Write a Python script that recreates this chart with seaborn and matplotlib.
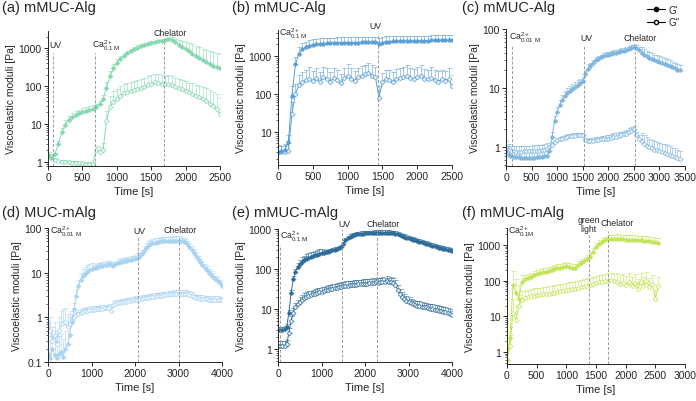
import numpy as np
import pandas as pd
import seaborn as sns
import matplotlib.pyplot as plt
from matplotlib.lines import Line2D
from matplotlib import ticker

# (a) mMUC-Alg, time every 50 s, G' / G'' in Pa, upper error in %
a_time = np.arange(0, 2501, 50)
a_g1 = [1.5, 1.3, 1.6, 3.0, 6.0, 9.5, 12.5, 15, 17, 19, 20.5, 22, 23.5, 25, 28,
        33, 45, 90, 180, 290,
        400, 510, 620, 720, 820, 920, 1020, 1110, 1200, 1280, 1360, 1430, 1500, 1560, 1620, 1680,
        1650, 1420, 1220, 1060, 930, 810, 710, 620, 550, 480, 430, 380, 345, 315, 290]
a_e1 = [10, 10, 10,
        20, 30, 30, 30, 30, 25, 25, 25, 25, 25, 25, 20,
        20, 30, 40, 40, 30,
        25, 20, 20, 15, 15, 15, 15, 15, 15, 10, 10, 10, 10, 10, 10, 10,
        15, 25, 35, 45, 55, 65, 75, 85, 95, 100, 110, 120, 125, 130, 140]
a_g2 = [1.6, 1.4, 1.15, 1.05, 1.0, 1.0, 0.97, 0.95, 0.95, 0.93, 0.92, 0.9, 0.9, 0.88,
        2.0, 1.8, 2.0, 12, 28, 38,
        45, 55, 65, 70, 75, 80, 85, 90, 95, 105, 115, 125, 120, 115, 110, 115,
        105, 95, 88, 82, 75, 68, 62, 56, 50, 45, 40, 34, 29, 24, 18]
a_e2 = [15, 10, 10, 10, 10, 10, 10, 10, 10, 10, 10, 10, 10, 10,
        30, 40, 60, 80, 90, 90,
        80, 80, 70, 70, 70, 70, 70, 70, 70, 70, 70, 70, 70, 70, 70, 70,
        70, 70, 70, 70, 80, 80, 90, 90, 100, 110, 120, 130, 140, 150, 160]

# (b) mMUC-Alg
b_time = np.arange(0, 2501, 50)
b_g1 = [3.0, 3.1, 3.3, 5.5, 90, 600, 1150, 1500, 1700, 1850, 1950, 2000, 2050, 2100, 2120, 2150, 2170, 2180, 2200, 2210,
        2220, 2230, 2240, 2250, 2260, 2270, 2280, 2290, 2300, 2050,
        2250, 2350, 2380, 2400, 2420, 2440, 2450, 2460, 2480, 2490,
        2500, 2520, 2530, 2540, 2550, 2560, 2580, 2590, 2600, 2610, 2620]
b_e1 = [40, 40, 40, 50, 80, 60, 50, 45, 40, 40,
        40, 40, 40, 40, 40, 40, 40, 40, 40, 40,
        40, 40, 40, 40, 40, 40, 40, 40, 40, 45,
        40, 40, 40, 40, 35, 35, 35, 35, 35, 35,
        35, 35, 35, 35, 35, 35, 35, 35, 35, 35, 35]
b_g2 = [3.0, 2.9, 3.0, 3.2, 30, 100, 170, 210, 230, 250,
        220, 260, 200, 280, 240, 210, 270, 230, 190, 260,
        300, 250, 220, 280, 300, 330, 350, 300, 280, 80,
        200, 250, 230, 210, 240, 260, 280, 300, 270, 250,
        280, 300, 250, 240, 260, 230, 210, 240, 220, 250, 160]
b_e2 = [50, 50, 60, 60, 100, 80, 80, 80, 90, 100,
        80, 80, 90, 80, 100, 80, 80, 90, 80, 80,
        100, 90, 80, 70, 80, 80, 90, 90, 80, 100,
        80, 70, 80, 80, 90, 80, 80, 90, 80, 80,
        80, 90, 80, 80, 100, 80, 90, 80, 80, 90, 100]

# (c) mMUC-Alg
c_time = np.arange(0, 3401, 50)
c_g1 = [0.85, 0.75, 0.70, 0.68, 0.67, 0.67, 0.66, 0.66, 0.66, 0.66, 0.66, 0.66, 0.67, 0.67, 0.68, 0.70, 0.72,
        0.85, 1.5, 2.8, 4.0, 5.2, 6.4, 7.4, 8.3, 9.1, 9.8, 10.5, 11.2, 12, 13, 17, 21,
        24, 27, 29.5, 31.5, 33, 34.5, 36, 37, 38, 39, 40, 41, 42, 43, 44, 45.5, 47, 49, 48, 44,
        40, 37, 34.5, 32.5, 31, 29.5, 28.5, 27.5, 26.5, 25.5, 24.5, 23.5, 22.5, 21.5, 20.5, 20]
c_e1 = [25, 25, 25, 25, 25, 25, 25, 25, 25, 25, 25, 25, 25, 25, 25, 25, 25,
        20, 20, 20, 20, 20, 20, 20, 20, 20, 20, 20, 20, 20, 20, 20, 20,
        12, 12, 12, 12, 12, 12, 12, 12, 12, 12, 12, 12, 12, 12, 12, 12, 12, 12, 12, 12,
        25, 25, 25, 25, 25, 25, 25, 25, 25, 25, 25, 25, 25, 25, 25, 25]
c_g2 = [1.0, 0.9, 0.85, 0.85, 0.84, 0.84, 0.84, 0.85, 0.85, 0.85, 0.85, 0.86, 0.86, 0.87, 0.88, 0.9, 0.93,
        1.0, 1.1, 1.2, 1.3, 1.35, 1.4, 1.45, 1.5, 1.52, 1.55, 1.57, 1.6, 1.6, 1.6, 1.3, 1.25,
        1.25, 1.25, 1.3, 1.3, 1.35, 1.35, 1.4, 1.4, 1.45, 1.5, 1.5, 1.55, 1.6, 1.65, 1.7, 1.8, 1.9, 2.0, 1.6, 1.4,
        1.25, 1.15, 1.05, 1.0, 0.95, 0.9, 0.88, 0.85, 0.82, 0.8, 0.78, 0.75, 0.7, 0.68, 0.65, 0.62]
c_e2 = [25, 25, 25, 25, 25, 25, 25, 25, 25, 25, 25, 25, 25, 25, 25, 25, 25,
        10, 10, 10, 10, 10, 10, 10, 10, 10, 10, 10, 10, 10, 10, 10, 10,
        15, 15, 15, 15, 15, 15, 15, 15, 15, 15, 15, 15, 15, 15, 15, 15, 15, 15, 15, 15,
        40, 40, 40, 40, 40, 40, 40, 40, 40, 40, 40, 40, 40, 40, 40, 40]

# (d) MUC-mAlg
d_time = np.arange(0, 4001, 50)
d_g1 = [0.15, 0.12, 0.2, 0.14, 0.12, 0.15, 0.17, 0.13, 0.2, 0.25, 0.4,
        0.8, 1.5, 3, 5, 7, 8.5, 9.5, 10.5, 11.2, 12,
        12.5, 13, 13.5, 14, 14.3, 14.6, 15, 15.5, 14.5, 14, 15.5, 16.5, 17, 17.5, 18, 18.5, 19, 19.5, 20, 20.5,
        21.5, 23, 26, 31, 36, 40, 43, 45, 47, 48, 49, 50, 50.5, 51, 51, 51.5, 52, 52, 52, 52,
        52, 51, 48, 43, 38, 33, 28, 24, 20, 17, 15, 13, 11.5, 10, 9, 8, 7.2, 6.5, 5.8, 5]
d_e1 = [150, 150, 150, 150, 150, 150, 150, 150, 150, 150, 150,
        40, 40, 40, 40, 40, 40, 40, 40, 40, 40,
        20, 20, 20, 20, 20, 20, 20, 20, 20, 20, 20, 20, 20, 20, 20, 20, 20, 20, 20, 20,
        25, 25, 25, 25, 25, 25, 25, 25, 25, 25, 25, 25, 25, 25, 25, 25, 25, 25, 25, 25,
        20, 20, 20, 20, 20, 20, 20, 20, 20, 20, 20, 20, 20, 20, 20, 20, 20, 20, 20, 20]
d_g2 = [0.8, 0.5, 0.3, 0.4, 0.25, 0.5, 0.7, 0.75, 0.8, 0.6, 0.7,
        0.85, 1.0, 1.1, 1.2, 1.28, 1.33, 1.37, 1.4, 1.43, 1.46,
        1.48, 1.5, 1.52, 1.54, 1.56, 1.58, 1.6, 1.62, 1.4, 1.9, 2.0, 2.05, 2.1, 2.15, 2.2, 2.25, 2.3, 2.35, 2.4, 2.45,
        2.5, 2.55, 2.6, 2.65, 2.7, 2.75, 2.8, 2.85, 2.9, 2.95, 3.0, 3.05, 3.1, 3.15, 3.2, 3.25, 3.3, 3.35, 3.4, 3.4,
        3.4, 3.4, 3.35, 3.3, 3.2, 3.0, 2.8, 2.7, 2.65, 2.6, 2.6, 2.55, 2.55, 2.5, 2.5, 2.5, 2.45, 2.45, 2.4, 2.4]
d_e2 = [100, 100, 100, 100, 100, 100, 100, 100, 100, 100, 100,
        20, 20, 20, 20, 20, 20, 20, 20, 20, 20,
        20, 20, 20, 20, 20, 20, 20, 20, 20, 20, 20, 20, 20, 20, 20, 20, 20, 20, 20, 20,
        20, 20, 20, 20, 20, 20, 20, 20, 20, 20, 20, 20, 20, 20, 20, 20, 20, 20, 20, 20,
        20, 20, 20, 20, 20, 20, 20, 20, 20, 20, 20, 20, 20, 20, 20, 20, 20, 20, 20, 20]

# (e) mMUC-mAlg
e_time = np.arange(0, 4001, 50)
e_g1 = [3.0, 2.9, 3.0, 3.1, 3.5, 8, 25, 55, 85,
        110, 130, 150, 165, 180, 190, 200, 210, 220, 230, 240, 250,
        258, 265, 272, 280, 290, 300, 315, 330, 350, 420, 520, 590, 640, 680, 710, 730, 745, 760, 770, 780,
        785, 790, 795, 800, 805, 808, 810, 810, 808, 805, 800, 790, 775, 755, 730, 700, 670, 640, 610, 580,
        560, 540, 520, 500, 480, 460, 440, 425, 410, 395, 380, 365, 350, 340, 330, 320, 310, 300, 290, 280]
e_e1 = [20, 20, 20, 20, 20, 20, 20, 20, 20,
        30, 30, 30, 30, 30, 30, 30, 30, 30, 30, 30, 30,
        15, 15, 15, 15, 15, 15, 15, 15, 15, 15, 15, 15, 15, 15, 15, 15, 15, 15, 15, 15,
        15, 15, 15, 15, 15, 15, 15, 15, 15, 15, 15, 15, 15, 15, 15, 15, 15, 15, 15, 15,
        15, 15, 15, 15, 15, 15, 15, 15, 15, 15, 15, 15, 15, 15, 15, 15, 15, 15, 15, 15]
e_g2 = [1.2, 1.2, 1.2, 1.2, 1.3, 2.5, 5, 8, 11,
        13, 15, 17, 19, 20, 21, 22, 23, 24, 25, 26, 27,
        28, 29, 30, 31, 32, 33, 34, 35, 36, 37, 38, 38, 39, 39, 40, 40, 41, 41, 42, 42,
        43, 44, 45, 44, 46, 45, 47, 48, 46, 50, 47, 48, 45, 40, 30, 24, 20, 18, 16, 15,
        14, 13, 12.5, 12, 12, 11.5, 11, 11, 10.5, 10, 10, 9.5, 9.5, 9, 9, 8.5, 8.5, 8, 7.5, 7]
e_e2 = [30, 30, 30, 30, 30, 30, 30, 30, 30,
        30, 30, 30, 30, 30, 30, 30, 30, 30, 30, 30, 30,
        30, 30, 30, 30, 30, 30, 30, 30, 30, 30, 30, 30, 30, 30, 30, 30, 30, 30, 30, 30,
        30, 30, 30, 30, 30, 30, 30, 30, 30, 30, 30, 30, 30, 30, 30, 30, 30, 30, 30, 30,
        30, 30, 30, 30, 30, 30, 30, 30, 30, 30, 30, 30, 30, 30, 30, 30, 30, 30, 30, 30]

# (f) mMUC-mAlg
f_time = np.arange(0, 2551, 50)
f_g1 = [0.6, 2.5, 75, 45, 30, 90,
        110, 120, 130, 140, 150, 160, 170, 180, 190, 200, 210, 220, 230, 240, 250, 245, 230, 220, 280, 320, 360, 400, 450,
        650, 900, 1100, 1250, 1380, 1480, 1520, 1500,
        1480, 1460, 1440, 1420, 1400, 1390, 1380, 1360, 1340, 1320, 1290, 1260, 1230, 1190, 1150]
f_e1 = [100, 100, 150, 150, 150, 60,
        30, 30, 30, 30, 30, 30, 30, 30, 30, 30, 30, 30, 30, 30, 30, 30, 30, 30, 30, 30, 30, 30, 30,
        25, 25, 25, 25, 25, 25, 25, 25,
        35, 35, 35, 35, 35, 35, 35, 35, 35, 35, 35, 35, 35, 35, 35]
f_g2 = [0.6, 1.5, 12, 8, 20, 28,
        32, 34, 36, 38, 39, 40, 41, 42, 43, 44, 46, 48, 50, 52, 54, 56, 58, 60, 62, 65, 68, 72, 76,
        80, 85, 90, 92, 95, 100, 105, 95,
        90, 80, 85, 75, 90, 70, 85, 60, 90, 70, 95, 65, 80, 30, 70]
f_e2 = [100, 100, 150, 150, 100, 80,
        60, 60, 60, 60, 60, 60, 60, 60, 60, 60, 60, 60, 60, 60, 60, 60, 60, 60, 60, 60, 60, 60, 60,
        60, 60, 60, 60, 60, 60, 60, 60,
        80, 80, 80, 80, 80, 80, 80, 80, 80, 80, 80, 80, 80, 80, 80]

sns.set_style("ticks")
plt.rcParams['font.family'] = ['Liberation Sans', 'DejaVu Sans']
plt.rcParams['mathtext.default'] = 'regular'

fig = plt.figure(figsize=(6.96, 4.02), dpi=100)


def box(l, r, t, b):
    return [l / 696, 1 - b / 402, (r - l) / 696, (b - t) / 402]


ca01 = r'Ca$^{2+}_{0.1\ M}$'
ca001 = r'Ca$^{2+}_{0.01\ M}$'

# events: (label, line x, text x, text y in axes fraction, line top)
panels = [
    dict(title="(a) mMUC-Alg", tpos=(2, 8), t=a_time, g1=a_g1, e1=a_e1, g2=a_g2, e2=a_e2, color='#86d8b0',
         box=box(48, 220, 32, 167), xlim=(0, 2500), xticks=range(0, 2501, 500),
         ylim=(0.78, 2800), yticks=[1, 10, 100, 1000],
         events=[("UV", 73, 25, 0.90, 0.84), (ca01, 690, 633, 0.90, 0.84), ("Chelator", 1692, 1539, 0.99, 0.94)]),
    dict(title="(b) mMUC-Alg", tpos=(232, 8), t=b_time, g1=b_g1, e1=b_e1, g2=b_g2, e2=b_e2, color='#5a9fd4',
         box=box(278, 452, 31, 166), xlim=(0, 2500), xticks=range(0, 2501, 500),
         ylim=(1.35, 4800), yticks=[10, 100, 1000],
         events=[(ca01, None, 10, 0.98, 0.9), ("UV", 1442, 1312, 1.03, 0.98)]),
    dict(title="(c) mMUC-Alg", tpos=(462, 8), t=c_time, g1=c_g1, e1=c_e1, g2=c_g2, e2=c_e2, color='#7fb6e0',
         box=box(506, 685, 30, 167), xlim=(0, 3500), xticks=range(0, 3501, 500),
         ylim=(0.48, 100), yticks=[1, 10, 100],
         events=[(ca001, 115, 63, 0.94, 0.88), ("UV", 1525, 1455, 0.94, 0.88), ("Chelator", 2520, 2295, 0.94, 0.88)]),
    dict(title="(d) MUC-mAlg", tpos=(2, 213), t=d_time, g1=d_g1, e1=d_e1, g2=d_g2, e2=d_e2, color='#a9d3f2',
         box=box(48, 222, 229, 363), xlim=(0, 4000), xticks=range(0, 4001, 1000),
         ylim=(0.1, 100), yticks=[0.1, 1, 10, 100],
         events=[(ca001, None, 40, 0.98, 0.9), ("UV", 2062, 1960, 0.98, 0.93), ("Chelator", 3000, 2653, 0.99, 0.93)]),
    dict(title="(e) mMUC-mAlg", tpos=(232, 213), t=e_time, g1=e_g1, e1=e_e1, g2=e_g2, e2=e_e2, color='#2e6d9a',
         box=box(278, 452, 230, 363), xlim=(0, 4000), xticks=range(0, 4001, 1000),
         ylim=(0.47, 1000), yticks=[1, 10, 100, 1000],
         events=[(ca01, 54, 40, 0.95, 0.88), ("UV", 1462, 1384, 1.04, 1.0), ("Chelator", 2270, 2040, 1.04, 1.0)]),
    dict(title="(f) mMUC-mAlg", tpos=(462, 213), t=f_time, g1=f_g1, e1=f_e1, g2=f_g2, e2=f_e2, color='#c3e55a',
         box=box(507, 685, 229, 365), xlim=(0, 3000), xticks=range(0, 3001, 500),
         ylim=(0.46, 3000), yticks=[1, 10, 100, 1000],
         events=[(r'Ca$^{2+}_{0.1M}$', None, 20, 0.98, 0.9), ("green\nlight", 1380, 1380, 1.03, 0.96),
                 ("Chelator", 1700, 1583, 1.04, 0.98)]),
]

for p in panels:
    ax = fig.add_axes(p['box'])
    c = p['color']
    df = pd.DataFrame({'t': p['t'], 'g1': p['g1'], 'g2': p['g2']})
    g1 = np.array(p['g1'], dtype=float)
    g2 = np.array(p['g2'], dtype=float)
    z = np.zeros(len(g1))
    ax.errorbar(p['t'], g2, yerr=[z, g2 * np.array(p['e2']) / 100], fmt='none', ecolor=c,
                elinewidth=0.5, capsize=1.8, capthick=0.5, alpha=0.8)
    ax.errorbar(p['t'], g1, yerr=[z, g1 * np.array(p['e1']) / 100], fmt='none', ecolor=c,
                elinewidth=0.5, capsize=1.8, capthick=0.5, alpha=0.8)
    sns.lineplot(data=df, x='t', y='g2', ax=ax, color=c, linewidth=0.7, marker='o', markersize=2.6,
                 markerfacecolor='white', markeredgecolor=c, markeredgewidth=0.6, errorbar=None)
    sns.lineplot(data=df, x='t', y='g1', ax=ax, color=c, linewidth=0.7, marker='o', markersize=2.6,
                 markerfacecolor=c, markeredgecolor=c, markeredgewidth=0.4, errorbar=None)

    for label, lx, tx, ty, ltop in p['events']:
        if lx is not None:
            ax.axvline(lx, ymin=0, ymax=ltop, color='0.6', lw=0.7, ls=(0, (3, 2)))
        ax.text(tx, ty, label, transform=ax.get_xaxis_transform(), fontsize=6.3,
                ha='center' if '\n' in label else 'left', va='center', color='0.15',
                linespacing=0.9, clip_on=False)

    ax.set_yscale('log')
    ax.set_ylim(*p['ylim'])
    ax.set_xlim(*p['xlim'])
    ax.set_xticks(list(p['xticks']))
    ax.yaxis.set_major_locator(ticker.FixedLocator(p['yticks']))
    ax.yaxis.set_major_formatter(ticker.FuncFormatter(lambda v, _: f'{v:g}'))
    ax.yaxis.set_minor_locator(ticker.LogLocator(base=10, subs=np.arange(2, 10)))
    ax.yaxis.set_minor_formatter(ticker.NullFormatter())
    ax.tick_params(which='major', labelsize=7.5, length=3, width=0.7, pad=1.5)
    ax.tick_params(which='minor', length=1.6, width=0.5)
    ax.set_xlabel('Time [s]', fontsize=8, labelpad=3)
    ax.set_ylabel('Viscoelastic moduli [Pa]', fontsize=7.5, labelpad=2)
    for s in ['left', 'bottom']:
        ax.spines[s].set_linewidth(0.7)
    sns.despine(ax=ax)
    fig.text(p['tpos'][0] / 696, 1 - p['tpos'][1] / 402, p['title'], fontsize=10.5, ha='left', va='center')

handles = [Line2D([0], [0], color='k', lw=0.8, marker='o', markersize=3),
           Line2D([0], [0], color='k', lw=0.8, marker='o', markersize=3, markerfacecolor='white')]
fig.legend(handles=handles, labels=["G'", "G''"], loc='upper right', bbox_to_anchor=(0.985, 1.0),
           frameon=False, fontsize=7, handlelength=1.8, handletextpad=0.4, labelspacing=0.25,
           borderaxespad=0.2)

fig.savefig('out.png', dpi=100)
